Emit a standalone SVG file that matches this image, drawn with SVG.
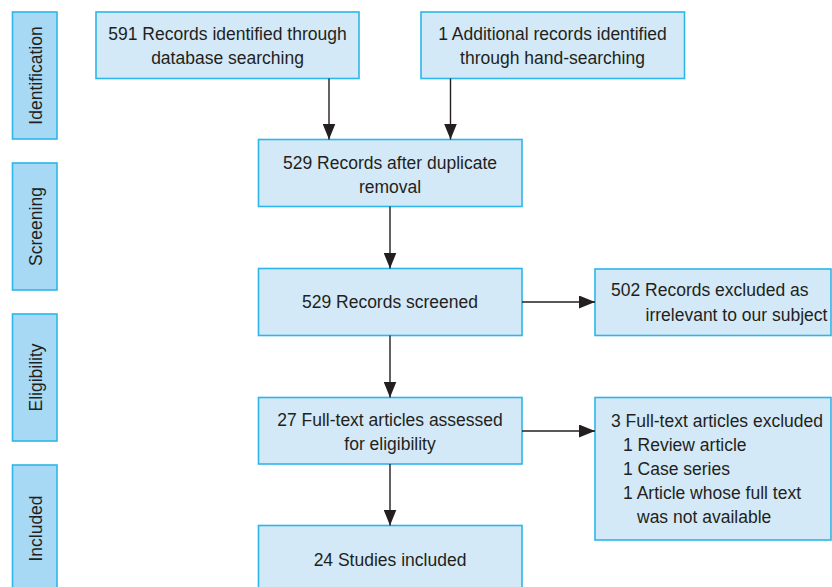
<svg xmlns="http://www.w3.org/2000/svg" width="832" height="587" viewBox="0 0 832 587">
<defs>
<marker id="ah" markerWidth="16" markerHeight="13" refX="16" refY="6.5" orient="auto" markerUnits="userSpaceOnUse">
<path d="M0,0 L16,6.5 L0,13 Z" fill="#231f20"/>
</marker>
<style>
.box{fill:#d3e9f7;stroke:#2cb6e9;stroke-width:1.6}
.side{fill:#a8d9f4;stroke:#2cb6e9;stroke-width:1.6}
.t{font-family:"Liberation Sans",Arial,sans-serif;font-size:17.5px;fill:#231f20}
.c{text-anchor:middle}
.e{stroke:#231f20;stroke-width:1.4;fill:none;marker-end:url(#ah)}
</style>
</defs>
<rect width="832" height="587" fill="#ffffff"/>
<g id="phase-identification"><rect class="side" x="12.5" y="12" width="44.5" height="127"/><text class="t c" transform="translate(42,75.5) rotate(-90)">Identification</text></g>
<g id="phase-screening"><rect class="side" x="12.5" y="163" width="44.5" height="127"/><text class="t c" transform="translate(42,226.5) rotate(-90)">Screening</text></g>
<g id="phase-eligibility"><rect class="side" x="12.5" y="314" width="44.5" height="127"/><text class="t c" transform="translate(42,377.5) rotate(-90)">Eligibility</text></g>
<g id="phase-included"><rect class="side" x="12.5" y="465" width="44.5" height="130"/><text class="t c" transform="translate(42,528.5) rotate(-90)">Included</text></g>
<g id="n-database"><rect class="box" x="96" y="12" width="263" height="66.5"/><text class="t c" x="227.5" y="40">591 Records identified through</text><text class="t c" x="227.5" y="64">database searching</text></g>
<g id="n-hand"><rect class="box" x="421" y="12" width="263.5" height="66.5"/><text class="t c" x="552.5" y="40">1 Additional records identified</text><text class="t c" x="552.5" y="64">through hand-searching</text></g>
<g id="n-dedup"><rect class="box" x="258.5" y="139.5" width="263.5" height="67"/><text class="t c" x="390" y="169">529 Records after duplicate</text><text class="t c" x="390" y="193">removal</text></g>
<g id="n-screened"><rect class="box" x="258.5" y="268.5" width="263.5" height="67"/><text class="t c" x="390" y="308">529 Records screened</text></g>
<g id="n-excluded1"><rect class="box" x="595" y="269" width="236" height="66.5"/><text class="t" x="611" y="296">502 Records excluded as</text><text class="t" x="645.5" y="321">irrelevant to our subject</text></g>
<g id="n-fulltext"><rect class="box" x="258.5" y="397.5" width="263.5" height="66.5"/><text class="t c" x="390" y="426">27 Full-text articles assessed</text><text class="t c" x="390" y="450">for eligibility</text></g>
<g id="n-excluded2"><rect class="box" x="595" y="397.5" width="236" height="142.5"/><text class="t" x="611" y="426.5">3 Full-text articles excluded</text><text class="t" x="623" y="450.5">1 Review article</text><text class="t" x="623" y="474.5">1 Case series</text><text class="t" x="623" y="498.5">1 Article whose full text</text><text class="t" x="637" y="522.5">was not available</text></g>
<g id="n-included"><rect class="box" x="258.5" y="525.5" width="263.5" height="70"/><text class="t c" x="390" y="566">24 Studies included</text></g>
<g id="connectors">
<line class="e" x1="329" y1="78.5" x2="329" y2="139.5"/>
<line class="e" x1="450.5" y1="78.5" x2="450.5" y2="139.5"/>
<line class="e" x1="390" y1="206.5" x2="390" y2="268.5"/>
<line class="e" x1="522" y1="302" x2="595" y2="302"/>
<line class="e" x1="390" y1="335.5" x2="390" y2="397.5"/>
<line class="e" x1="522" y1="431" x2="595" y2="431"/>
<line class="e" x1="390" y1="464" x2="390" y2="525.5"/>
</g>
</svg>
